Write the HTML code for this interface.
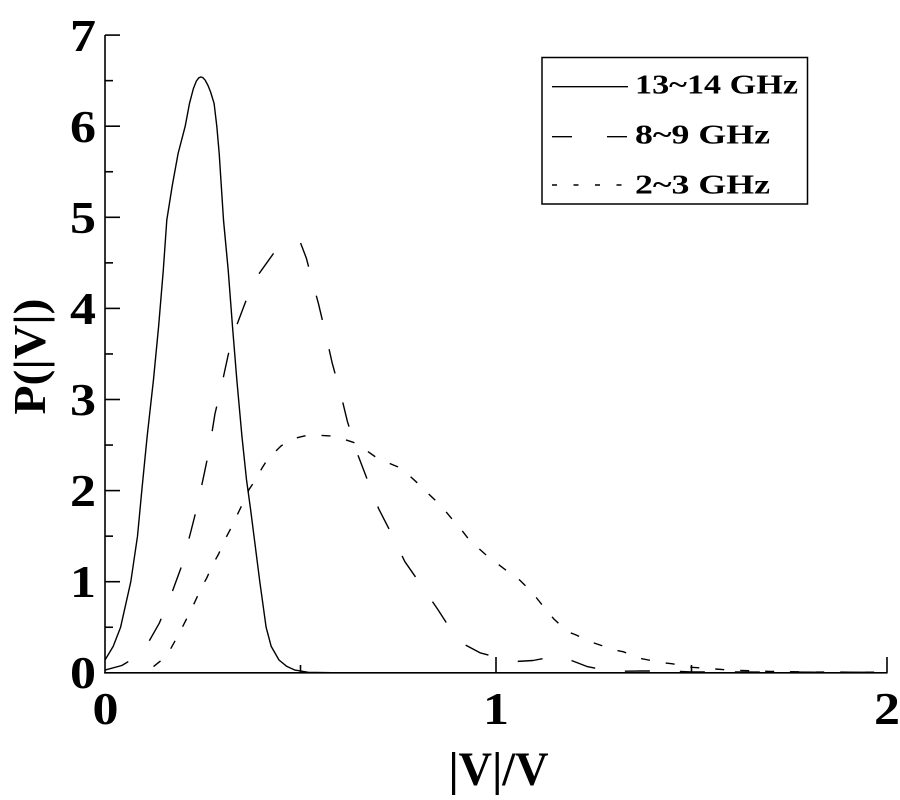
<!DOCTYPE html>
<html>
<head>
<meta charset="utf-8">
<style>
  html, body { margin: 0; padding: 0; background: #fff; }
  svg { display: block; }
  text { font-family: "Liberation Serif", "Times New Roman", serif; font-weight: bold; fill: #000; }
</style>
</head>
<body>
<svg width="900" height="800" viewBox="0 0 900 800" xmlns="http://www.w3.org/2000/svg">
  <rect x="0" y="0" width="900" height="800" fill="#fff"/>

  <!-- Axes -->
  <g stroke="#000" stroke-width="1.6" fill="none">
    <line x1="105" y1="35" x2="105" y2="673.5"/>
    <line x1="104.2" y1="672.8" x2="887.5" y2="672.8"/>
    <!-- y major ticks -->
    <line x1="105" y1="35.1" x2="120" y2="35.1"/>
    <line x1="105" y1="126.2" x2="120" y2="126.2"/>
    <line x1="105" y1="217.3" x2="120" y2="217.3"/>
    <line x1="105" y1="308.4" x2="120" y2="308.4"/>
    <line x1="105" y1="399.5" x2="120" y2="399.5"/>
    <line x1="105" y1="490.6" x2="120" y2="490.6"/>
    <line x1="105" y1="581.7" x2="120" y2="581.7"/>
    <!-- y minor ticks -->
    <line x1="105" y1="80.65" x2="113" y2="80.65"/>
    <line x1="105" y1="171.75" x2="113" y2="171.75"/>
    <line x1="105" y1="262.85" x2="113" y2="262.85"/>
    <line x1="105" y1="353.95" x2="113" y2="353.95"/>
    <line x1="105" y1="445.05" x2="113" y2="445.05"/>
    <line x1="105" y1="536.15" x2="113" y2="536.15"/>
    <line x1="105" y1="627.25" x2="113" y2="627.25"/>
    <!-- x ticks -->
    <line x1="496" y1="672.8" x2="496" y2="657"/>
    <line x1="887" y1="672.8" x2="887" y2="657"/>
    <line x1="300.5" y1="672.8" x2="300.5" y2="665"/>
    <line x1="691.5" y1="672.8" x2="691.5" y2="665"/>
  </g>

  <!-- Y tick labels -->
  <g font-size="46" text-anchor="end">
    <text x="96" y="51" textLength="26" lengthAdjust="spacingAndGlyphs">7</text>
    <text x="96" y="142" textLength="26" lengthAdjust="spacingAndGlyphs">6</text>
    <text x="96" y="233" textLength="26" lengthAdjust="spacingAndGlyphs">5</text>
    <text x="96" y="324" textLength="26" lengthAdjust="spacingAndGlyphs">4</text>
    <text x="96" y="415" textLength="26" lengthAdjust="spacingAndGlyphs">3</text>
    <text x="96" y="506" textLength="26" lengthAdjust="spacingAndGlyphs">2</text>
    <text x="96" y="597" textLength="26" lengthAdjust="spacingAndGlyphs">1</text>
    <text x="96" y="688" textLength="26" lengthAdjust="spacingAndGlyphs">0</text>
  </g>

  <!-- X tick labels -->
  <g font-size="46" text-anchor="middle">
    <text x="105.5" y="724" textLength="26" lengthAdjust="spacingAndGlyphs">0</text>
    <text x="496" y="724" textLength="26" lengthAdjust="spacingAndGlyphs">1</text>
    <text x="887" y="724" textLength="26" lengthAdjust="spacingAndGlyphs">2</text>
  </g>

  <!-- Axis titles -->
  <text x="498.5" y="785" font-size="48" text-anchor="middle" textLength="100" lengthAdjust="spacingAndGlyphs">|V|/V</text>
  <text transform="translate(45,356.5) rotate(-90)" font-size="45" text-anchor="middle" textLength="116" lengthAdjust="spacingAndGlyphs">P(|V|)</text>

  <!-- Series: 13~14 GHz (solid) -->
  <polyline fill="none" stroke="#000" stroke-width="1.4" stroke-linejoin="round"
    points="105,660.0 113.2,646.4 120.6,627.2 130.8,581.7 137.5,536.2 141.8,490.6 147.2,435.9 153.5,379.5 158.6,326.6 163.3,270.1 166.8,220.0 172.3,185.4 178.1,153.5 185.2,126.2 189.5,103.4 193.4,88.5 196.4,81.0 198.8,77.8 200.8,77.0 202.8,77.6 205.2,80.2 208.0,85.5 210.6,92.0 214.1,103.4 216.8,126.2 219.2,153.5 223.5,220.0 228.2,270.1 232.5,326.6 236.8,379.5 241.9,435.9 246.5,479.7 250.5,508.8 254.0,536.2 259.8,581.7 266.1,627.2 271.2,646.4 279.0,660.0 286.8,666.4 295.0,670.1 308.3,672.3 339.6,672.8"/>

  <!-- Series: 8~9 GHz (long dash) -->
  <polyline fill="none" stroke="#000" stroke-width="1.4" stroke-linejoin="round" stroke-dasharray="25 30"
    points="105,670.1 121.8,665.5 132.4,659.1 146.1,646.4 159.3,623.2 172.6,590.8 181.6,566.2 190.6,532.5 197.3,506.1 204.3,473.3 209.4,448.7 214.9,414.1 220.7,389.5 228.2,354.9 234.8,330.3 246.5,299.3 258.3,274.7 275.9,250.1 294.2,245.5 300.5,242.8 306.4,258.3 311.8,279.2 318.5,303.8 326.7,338.5 332.2,363.1 341.2,395.9 347.4,421.4 357.6,454.2 366.6,477.8 378.7,508.8 388.5,527.9 404.9,561.7 418.2,580.8 438.1,609.9 451.0,630.0 464.7,644.6 480.0,652.8 503.4,659.1 517.5,661.4 533.1,660.5 557.4,655.8 570.3,660.0 586.7,666.4 610.6,671.4 640.7,671.0 666.1,671.0 691.5,671.9 887,672.3"/>

  <!-- Series: 2~3 GHz (short dash) -->
  <polyline fill="none" stroke="#000" stroke-width="1.4" stroke-linejoin="round" stroke-dasharray="9 16"
    points="105,672.8 140.2,672.8 143.3,671.9 151.5,668.2 161.7,660.0 169.5,650.9 178.1,635.4 182.8,626.3 190.6,610.9 194.1,603.6 201.6,587.2 206.7,578.1 213.3,563.5 218.4,554.4 225.8,538.0 230.1,529.8 237.5,514.3 241.9,505.2 248.9,489.7 254.4,481.5 262.2,467.8 268.0,458.7 281.0,446.0 289.9,439.6 304.4,435.9 314.2,435.0 330.2,435.9 339.6,437.8 353.3,442.3 361.5,446.9 376.7,457.8 385.0,461.5 397.9,466.9 404.9,471.5 417.8,483.3 424.1,489.7 436.6,501.5 442.8,507.9 454.2,521.6 460.0,528.0 470.6,541.6 477.2,547.1 490.5,558.9 498.3,564.4 512.8,575.3 519.5,579.9 531.6,591.7 537.4,599.0 548.4,612.7 553.9,619.0 567.6,631.8 575.0,634.5 590.6,641.8 598.8,644.6 614.9,650.0 623.5,651.8 639.5,658.2 648.5,660.0 663.3,662.8 671.6,663.7 691.5,667.3 730.6,670.1 769.7,671.4 808.8,672.0 887,672.3"/>

  <!-- Legend -->
  <rect x="542" y="57.5" width="265.5" height="146.5" fill="#fff" stroke="#000" stroke-width="1.5"/>
  <line x1="552" y1="86.7" x2="628" y2="86.7" stroke="#000" stroke-width="1.4"/>
  <line x1="552" y1="136.7" x2="628" y2="136.7" stroke="#000" stroke-width="1.4" stroke-dasharray="20 35"/>
  <line x1="552" y1="185" x2="628" y2="185" stroke="#000" stroke-width="1.4" stroke-dasharray="5 16.5"/>
  <g font-size="27">
    <text x="635" y="93.3" textLength="163" lengthAdjust="spacingAndGlyphs">13~14 GHz</text>
    <text x="635" y="143.3" textLength="135" lengthAdjust="spacingAndGlyphs">8~9 GHz</text>
    <text x="635" y="193.3" textLength="135" lengthAdjust="spacingAndGlyphs">2~3 GHz</text>
  </g>
</svg>
</body>
</html>
